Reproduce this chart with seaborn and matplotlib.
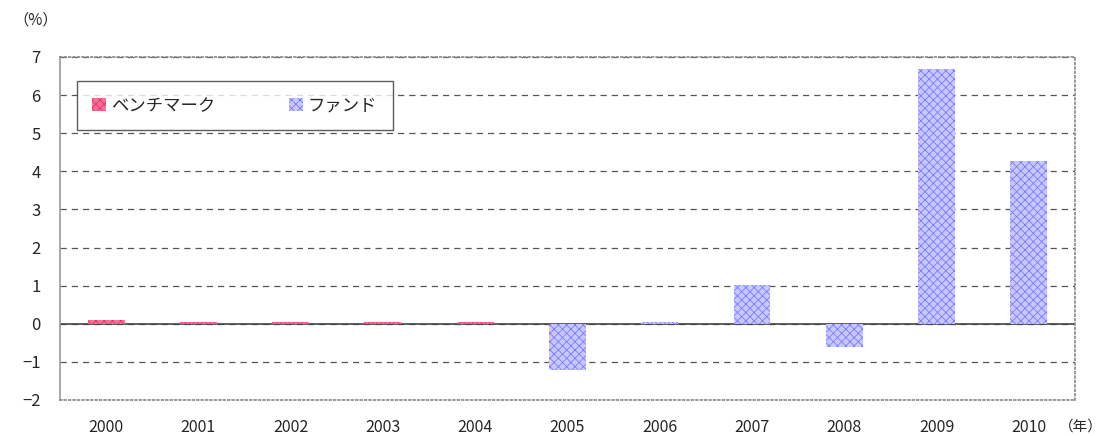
import numpy as np
import pandas as pd
import matplotlib
matplotlib.use('Agg')
import matplotlib.pyplot as plt
import seaborn as sns

sns.set_style('white')
plt.rcParams['font.family'] = ['Noto Sans CJK JP', 'DejaVu Sans']
plt.rcParams['hatch.linewidth'] = 0.6

# -----------------------------------------------------------------------------
# Data
# -----------------------------------------------------------------------------
years = ['2000', '2001', '2002', '2003', '2004', '2005',
         '2006', '2007', '2008', '2009', '2010']
benchmark = [0.10, 0.05, 0.05, 0.05, 0.05, np.nan,
             np.nan, np.nan, np.nan, np.nan, np.nan]
fund = [np.nan, np.nan, np.nan, np.nan, np.nan, -1.21,
        0.04, 1.02, -0.60, 6.69, 4.27]
series_names = ['ベンチマーク', 'ファンド']

df = pd.DataFrame({
    'year': years * 2,
    'value': benchmark + fund,
    'series': [series_names[0]] * len(years) + [series_names[1]] * len(years),
})

# -----------------------------------------------------------------------------
# Plot
# -----------------------------------------------------------------------------
fig = plt.figure(figsize=(11.04, 4.36), dpi=100)
ax = fig.add_axes([0.0543, 0.0826, 0.9194, 0.7867])

sns.barplot(data=df, x='year', y='value', hue='series', order=years,
            hue_order=series_names, dodge=False, width=0.4,
            palette=['#ff7098', '#b8b8ff'], ax=ax, zorder=3)

styles = {series_names[0]: ('#ff7098', '#e8306a'),
          series_names[1]: ('#c8c8ff', '#7a7aff')}
for cont, name in zip(ax.containers, series_names):
    fc, hc = styles[name]
    for bar in cont:
        bar.set_facecolor(fc)
        bar.set_edgecolor(hc)
        bar.set_hatch('xxxx')
        bar.set_linewidth(0)

ax.set_ylim(-2, 7)
ax.set_xlim(-0.5, len(years) - 0.5)
ax.set_yticks(range(-2, 8))
ax.yaxis.grid(True, linestyle=(0, (5, 4)), color='#555555', linewidth=0.9)
ax.set_axisbelow(True)
ax.axhline(0, color='#444444', linewidth=1.2, zorder=2)

for s in ax.spines.values():
    s.set_linestyle(':')
    s.set_color('#888888')
    s.set_linewidth(1.2)
ax.spines['left'].set_linestyle('-')
ax.spines['left'].set_color('#999999')

ax.set_xlabel('')
ax.set_ylabel('')
ax.tick_params(axis='x', length=0, labelsize=11.5, pad=14)
ax.tick_params(axis='y', length=0, labelsize=12, pad=14)

fig.text(0.012, 0.955, '（%）', fontsize=11, ha='left', va='center')
fig.text(0.999, 0.022, '（年）', fontsize=10.5, ha='right', va='center')

leg = ax.legend(loc='upper left', bbox_to_anchor=(0.008, 0.955), ncol=2,
                frameon=True, fancybox=False, fontsize=12.5, columnspacing=4.2,
                handlelength=0.8, handleheight=0.8, handletextpad=0.3,
                borderpad=0.9)
leg.get_frame().set_edgecolor('#333333')
leg.get_frame().set_linewidth(1.0)
for h, name in zip(leg.legend_handles, series_names):
    fc, hc = styles[name]
    h.set_facecolor(fc)
    h.set_edgecolor(hc)
    h.set_hatch('xxxx')
    h.set_linewidth(0)

fig.savefig('out.png', dpi=100)
